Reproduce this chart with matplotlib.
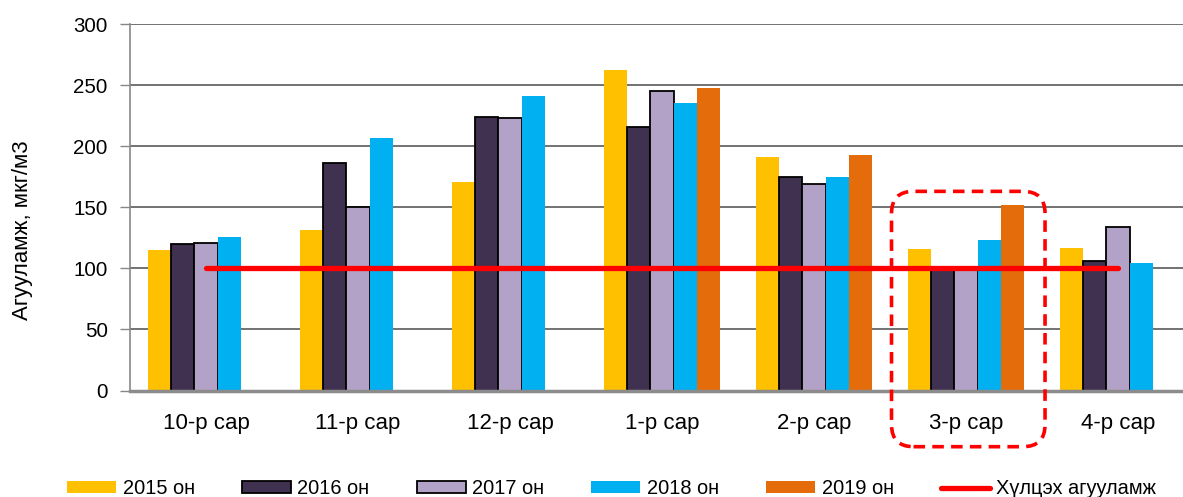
import matplotlib
matplotlib.use("Agg")
import matplotlib.pyplot as plt
from matplotlib.patches import FancyBboxPatch
import numpy as np

plt.rcParams['font.family'] = ['Liberation Sans', 'DejaVu Sans']

categories = ["10-р сар", "11-р сар", "12-р сар", "1-р сар", "2-р сар", "3-р сар", "4-р сар"]
series_names = ["2015 он", "2016 он", "2017 он", "2018 он", "2019 он"]
v2015 = [115, 131, 171, 262, 191, 116, 117]
v2016 = [120, 186, 224, 216, 175, 99, 106]
v2017 = [121, 150, 223, 245, 169, 99, 134]
v2018 = [126, 207, 241, 235, 175, 123, 104]
v2019 = [np.nan, np.nan, np.nan, 248, 193, 152, np.nan]
limit_name = "Хүлцэх агууламж"
limit_values = [100, 100, 100, 100, 100, 100, 100]
yticks = [0, 50, 100, 150, 200, 250, 300]

colors = ["#FFC000", "#403151", "#B3A2C7", "#00B0F0", "#E46C0A"]
edges = [None, "black", "black", None, None]
series = [v2015, v2016, v2017, v2018, v2019]

fig = plt.figure(figsize=(11.83, 4.97), dpi=100)
ax = fig.add_axes([130/1183, 106.5/497, 1053/1183, 366.5/497])

x = np.arange(len(categories))
w = 0.153
handles = []
for i, (vals, c, e, name) in enumerate(zip(series, colors, edges, series_names)):
    kw = dict(color=c, label=name, zorder=2)
    if e:
        kw.update(edgecolor=e, linewidth=1.3)
    else:
        kw.update(linewidth=0)
    b = ax.bar(x + (i - 2) * w, vals, w, **kw)
    handles.append(b)

ln, = ax.plot(x, limit_values, color="#FF0000", lw=3.8, solid_capstyle="round",
              label=limit_name, zorder=3)
handles.append(ln)

ax.set_xlim(-0.5, -0.5 + 1053/152)
ax.set_ylim(0, 300)
ax.set_yticks(yticks)
ax.set_xticks(x)
ax.set_xticklabels(categories, fontsize=16)
ax.tick_params(axis='x', length=0, pad=16)
ax.tick_params(axis='y', length=7, width=1, color="#878787", labelsize=14.8, pad=9)
ax.yaxis.grid(True, color="#5a5a5a", lw=1.2)
ax.set_axisbelow(True)
for s in ["top", "right"]:
    ax.spines[s].set_visible(False)
ax.spines["left"].set_color("#878787")
ax.spines["left"].set_linewidth(1.2)
ax.spines["bottom"].set_color("#8c8c8c")
ax.spines["bottom"].set_linewidth(2.5)
ax.spines["bottom"].set_zorder(4)

ax.set_ylabel("Агууламж, мкг/м3", fontsize=16)
ax.yaxis.set_label_coords(-0.102, 0.438)
ax.yaxis.label.set_va("center")

# highlight box around 3-р сар
fig.canvas.draw()
p0 = ax.transData.transform((4.51, 163))
p1 = ax.transData.transform((5.52, -46))
x0, y0 = p0[0]/fig.dpi, p1[1]/fig.dpi
bw, bh = (p1[0]-p0[0])/fig.dpi, (p0[1]-p1[1])/fig.dpi
box = FancyBboxPatch((x0, y0), bw, bh, boxstyle="round,pad=0,rounding_size=0.22",
                     transform=fig.dpi_scale_trans, fill=False, edgecolor="#FF0000",
                     lw=2.6, linestyle=(0, (3.2, 2.0)), zorder=5)
fig.add_artist(box)

fig.legend(handles, series_names + [limit_name], loc="center",
           bbox_to_anchor=(0.517, 8.5/497), ncol=6, frameon=False, fontsize=14.4,
           handlelength=2.45, handleheight=0.53, handletextpad=0.33,
           columnspacing=2.35, borderaxespad=0, borderpad=0)

fig.savefig("out.png", dpi=100)
